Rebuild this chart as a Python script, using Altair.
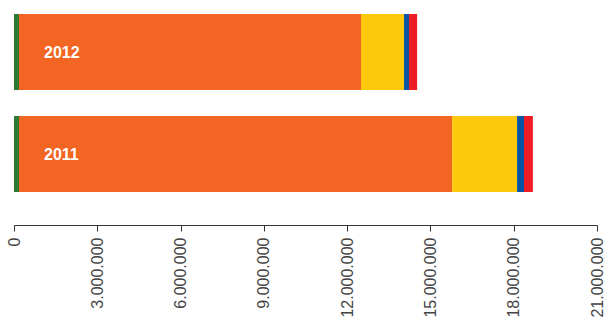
import altair as alt
import pandas as pd

# Yearly totals split into five stacked components (values in units)
years = ["2012", "2011"]
segments = ["A", "B", "C", "D", "E"]
segment_colors = ["#2e7a34", "#f26522", "#fec80c", "#0a55a3", "#ee1c25"]
values_2012 = [180000, 12320000, 1550000, 180000, 290000]
values_2011 = [180000, 15600000, 2340000, 250000, 320000]
x_ticks = [0, 3000000, 6000000, 9000000, 12000000, 15000000, 18000000, 21000000]

rows = []
for year, vals in zip(years, [values_2012, values_2011]):
    for i, (seg, v) in enumerate(zip(segments, vals)):
        rows.append({"year": year, "segment": seg, "order": i, "value": v})
df = pd.DataFrame(rows)
labels = pd.DataFrame({"year": years, "zero": [0, 0]})

y_enc = alt.Y(
    "year:N",
    sort=years,
    axis=None,
    scale=alt.Scale(range=[1, 205], paddingInner=0.255, paddingOuter=0.1275),
)

bars = alt.Chart(df).mark_bar().encode(
    x=alt.X(
        "value:Q",
        stack="zero",
        scale=alt.Scale(domain=[0, 21000000], nice=False),
        axis=alt.Axis(
            values=x_ticks,
            title=None,
            grid=False,
            labelAngle=270,
            labelExpr="replace(format(datum.value, ','), /,/g, '.')",
            labelFont="Liberation Sans",
            labelFontSize=16,
            labelColor="#444444",
            labelPadding=6,
            tickSize=6,
            tickColor="#333333",
            domainColor="#333333",
            labelOverlap=False,
        ),
    ),
    y=y_enc,
    color=alt.Color(
        "segment:N",
        scale=alt.Scale(domain=segments, range=segment_colors),
        legend=None,
    ),
    order=alt.Order("order:Q"),
)

text = alt.Chart(labels).mark_text(
    align="left",
    baseline="middle",
    dx=30,
    dy=1,
    color="white",
    font="Liberation Sans",
    fontWeight="bold",
    fontSize=16,
).encode(
    x=alt.X("zero:Q"),
    y=y_enc,
    text="year:N",
)

chart = (
    alt.layer(bars, text)
    .properties(
        width=583,
        height=225,
        autosize=alt.AutoSizeParams(type="none"),
        padding={"left": 14, "top": 0, "right": 7, "bottom": 95},
    )
    .configure_view(stroke=None)
)

chart.save("out.html", embed_options={"renderer": "svg", "actions": False})
